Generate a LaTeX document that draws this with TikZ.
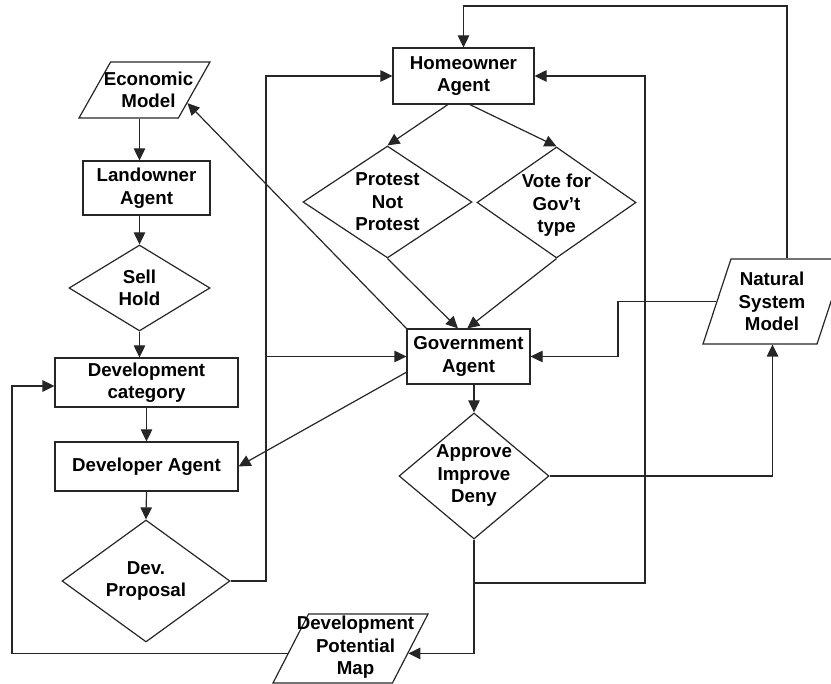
\documentclass[tikz,border=0pt]{standalone}
\usepackage{fontspec}
\setmainfont{Liberation Sans}
\usetikzlibrary{shapes.geometric}
\usetikzlibrary{arrows.meta}
\usetikzlibrary{calc}

\begin{document}
\begin{tikzpicture}[x=1pt,y=-1pt,>={Triangle[length=12pt,width=11.5pt]},
font=\fontsize{18.7}{22.5}\selectfont\bfseries,
every label/.style={align=center},
doboz/.style={rectangle,draw=black!85,line width=1.2pt,align=center,inner sep=0pt},
dontes/.style={diamond,draw=black!85,line width=1.2pt,inner sep=0pt},
adat/.style={trapezium,trapezium stretches=true,draw=black!85,line width=1.2pt,inner sep=2pt}]

\useasboundingbox (0,0) rectangle (831,684);

\node[adat,trapezium left angle=65,trapezium right angle=115,minimum width=131pt,minimum height=56pt,
  label={[xshift=4pt]center:Economic\\Model}](econ) at (144.5,90){};
\node[doboz,minimum width=127pt,minimum height=54pt](land) at (146.5,188){Landowner\\Agent};
\node[dontes,minimum width=141pt,minimum height=86pt,label={center:Sell\\Hold}](sell) at (139.5,288){};
\node[doboz,minimum width=183pt,minimum height=49pt](devcat) at (146.5,382.5){Development\\category};
\node[doboz,minimum width=183pt,minimum height=49pt](devag) at (146.5,466.5){Developer Agent};
\node[dontes,minimum width=168pt,minimum height=122pt,label={center:Dev.\\Proposal}](prop) at (146,581){};

\node[doboz,minimum width=141pt,minimum height=56pt](home) at (463.5,76){Homeowner\\Agent};
\node[dontes,minimum width=169pt,minimum height=112pt,label={center:Protest\\Not\\Protest}](protest) at (387.5,202){};
\node[dontes,minimum width=159pt,minimum height=111pt,label={[yshift=-3pt]center:Vote for\\Gov’t\\type}](vote) at (556.5,202.5){};
\node[doboz,minimum width=123pt,minimum height=55pt](gov) at (468.5,356.5){Government\\Agent};
\node[dontes,minimum width=150pt,minimum height=126pt,label={center:Approve\\Improve\\Deny}](appr) at (474,476){};

\node[adat,trapezium left angle=72,trapezium right angle=108,minimum width=142pt,minimum height=85pt,
  label={[xshift=-2pt]center:Natural\\System\\Model}](nsm) at (774,301.5){};
\node[adat,trapezium left angle=67,trapezium right angle=113,minimum width=155pt,minimum height=69pt,
  label={[xshift=5pt,yshift=1pt]center:Development\\Potential\\Map}](dpm) at (350.5,648.5){};

\coordinate (bal) at (266,0);
\coordinate (kozep) at (618,0);
\coordinate (jobb) at (645,583);
\coordinate (szel) at (12,0);
\coordinate (teto) at (0,6);
\coordinate (devbe) at ($(devcat.south west)!.43!(devcat.north west)$);

\begin{scope}[->,line width=1.2pt,black!85]
\draw (econ.south -| sell.north)--(land.north -| sell.north);
\draw (land.south -| sell.north)--(sell.north);
\draw (sell.south)--(devcat.north -| sell.south);
\draw (devcat.south)--(devag.north);
\draw (devag.south)--(prop.north);
\draw (prop.east) -| (bal |- home.west)--(home.west);
\draw (bal |- gov.west)--(gov.west);
\draw (gov.north west)--($(econ.bottom right corner)!.27!(econ.top right corner)$);
\draw ($(gov.south west)!.22!(gov.north west)$)--(devag.east);
\draw ($(home.south west)!.39!(home.south east)$)--(protest.north);
\draw ($(home.south west)!.545!(home.south east)$)--(vote.north);
\draw (protest.south)--($(gov.north west)!.415!(gov.north east)$);
\draw (vote.south)--($(gov.north west)!.49!(gov.north east)$);
\draw (gov.south -| appr.north)--(appr.north);
\draw (appr.east) -| ($(nsm.bottom left corner)!.61!(nsm.bottom right corner)$);
\draw ($(nsm.top left corner)!.49!(nsm.top right corner)$) |- (teto -| home.north)--(home.north);
\draw (nsm.west) -| (kozep |- gov.east)--(gov.east);
\draw (appr.south) |- ($(dpm.bottom right corner)!.43!(dpm.top right corner)$);
\draw (appr.south |- jobb)--(jobb) |- (home.east);
\draw ($(dpm.bottom left corner)!.43!(dpm.top left corner)$) -| (szel |- devbe)--(devbe);
\end{scope}

\end{tikzpicture}
\end{document}
